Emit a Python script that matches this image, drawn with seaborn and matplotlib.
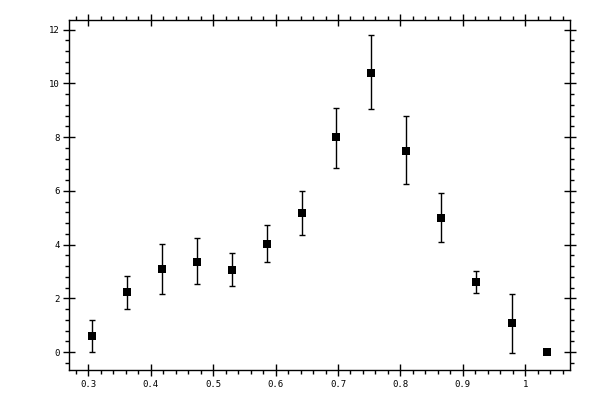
import matplotlib
matplotlib.use("Agg")
import matplotlib.pyplot as plt
import numpy as np
import pandas as pd
import seaborn as sns
from matplotlib.ticker import MultipleLocator, FuncFormatter

# values
x_vals = [0.3064, 0.3625, 0.4185, 0.4746, 0.5307, 0.5867, 0.6427,
          0.6975, 0.7535, 0.8095, 0.8655, 0.9215, 0.978, 1.034]
y_vals = [0.59, 2.23, 3.08, 3.37, 3.05, 4.01, 5.16,
          7.99, 10.40, 7.50, 5.01, 2.60, 1.08, 0.0]
y_hi = [1.19, 2.85, 4.01, 4.23, 3.68, 4.72, 5.98,
        9.09, 11.78, 8.80, 5.94, 3.01, 2.18, 0.0]
y_lo = [0.0, 1.60, 2.15, 2.53, 2.45, 3.34, 4.35,
        6.84, 9.03, 6.25, 4.09, 2.19, -0.04, 0.0]

df = pd.DataFrame({"x": x_vals, "y": y_vals, "hi": y_hi, "lo": y_lo})

sns.set_style("ticks")
plt.rcParams["font.family"] = ["DejaVu Sans Mono", "DejaVu Sans"]

fig = plt.figure(figsize=(6, 4), dpi=100)
ax = fig.add_axes([0.1158, 0.075, 0.95 - 0.1158, 0.951 - 0.075])

yerr = np.vstack([df["y"] - df["lo"], df["hi"] - df["y"]])
ax.errorbar(df["x"], df["y"], yerr=yerr, fmt="none", ecolor="black",
            elinewidth=1.0, capsize=2.2, capthick=1.0, zorder=2)
sns.scatterplot(data=df, x="x", y="y", marker="s", color="black", s=38,
                edgecolor="black", linewidth=0, ax=ax, zorder=3)

ax.set_xlim(0.2699, 1.0716)
ax.set_ylim(-0.66, 12.37)
ax.set_xlabel("")
ax.set_ylabel("")

ax.xaxis.set_major_locator(MultipleLocator(0.1))
ax.xaxis.set_minor_locator(MultipleLocator(0.02))
ax.yaxis.set_major_locator(MultipleLocator(2))
ax.yaxis.set_minor_locator(MultipleLocator(0.4))
ax.xaxis.set_major_formatter(FuncFormatter(lambda v, p: f"{v:g}"))
ax.yaxis.set_major_formatter(FuncFormatter(lambda v, p: f"{v:g}"))

ax.tick_params(which="major", direction="inout", length=8, width=1.0,
               top=True, right=True, labelsize=6.5, pad=3, colors="black")
ax.tick_params(which="minor", direction="out", length=3, width=1.0,
               top=True, right=True, colors="black")

for sp in ax.spines.values():
    sp.set_visible(True)
    sp.set_linewidth(1.0)
    sp.set_color("black")

fig.savefig("out.png", dpi=100)
